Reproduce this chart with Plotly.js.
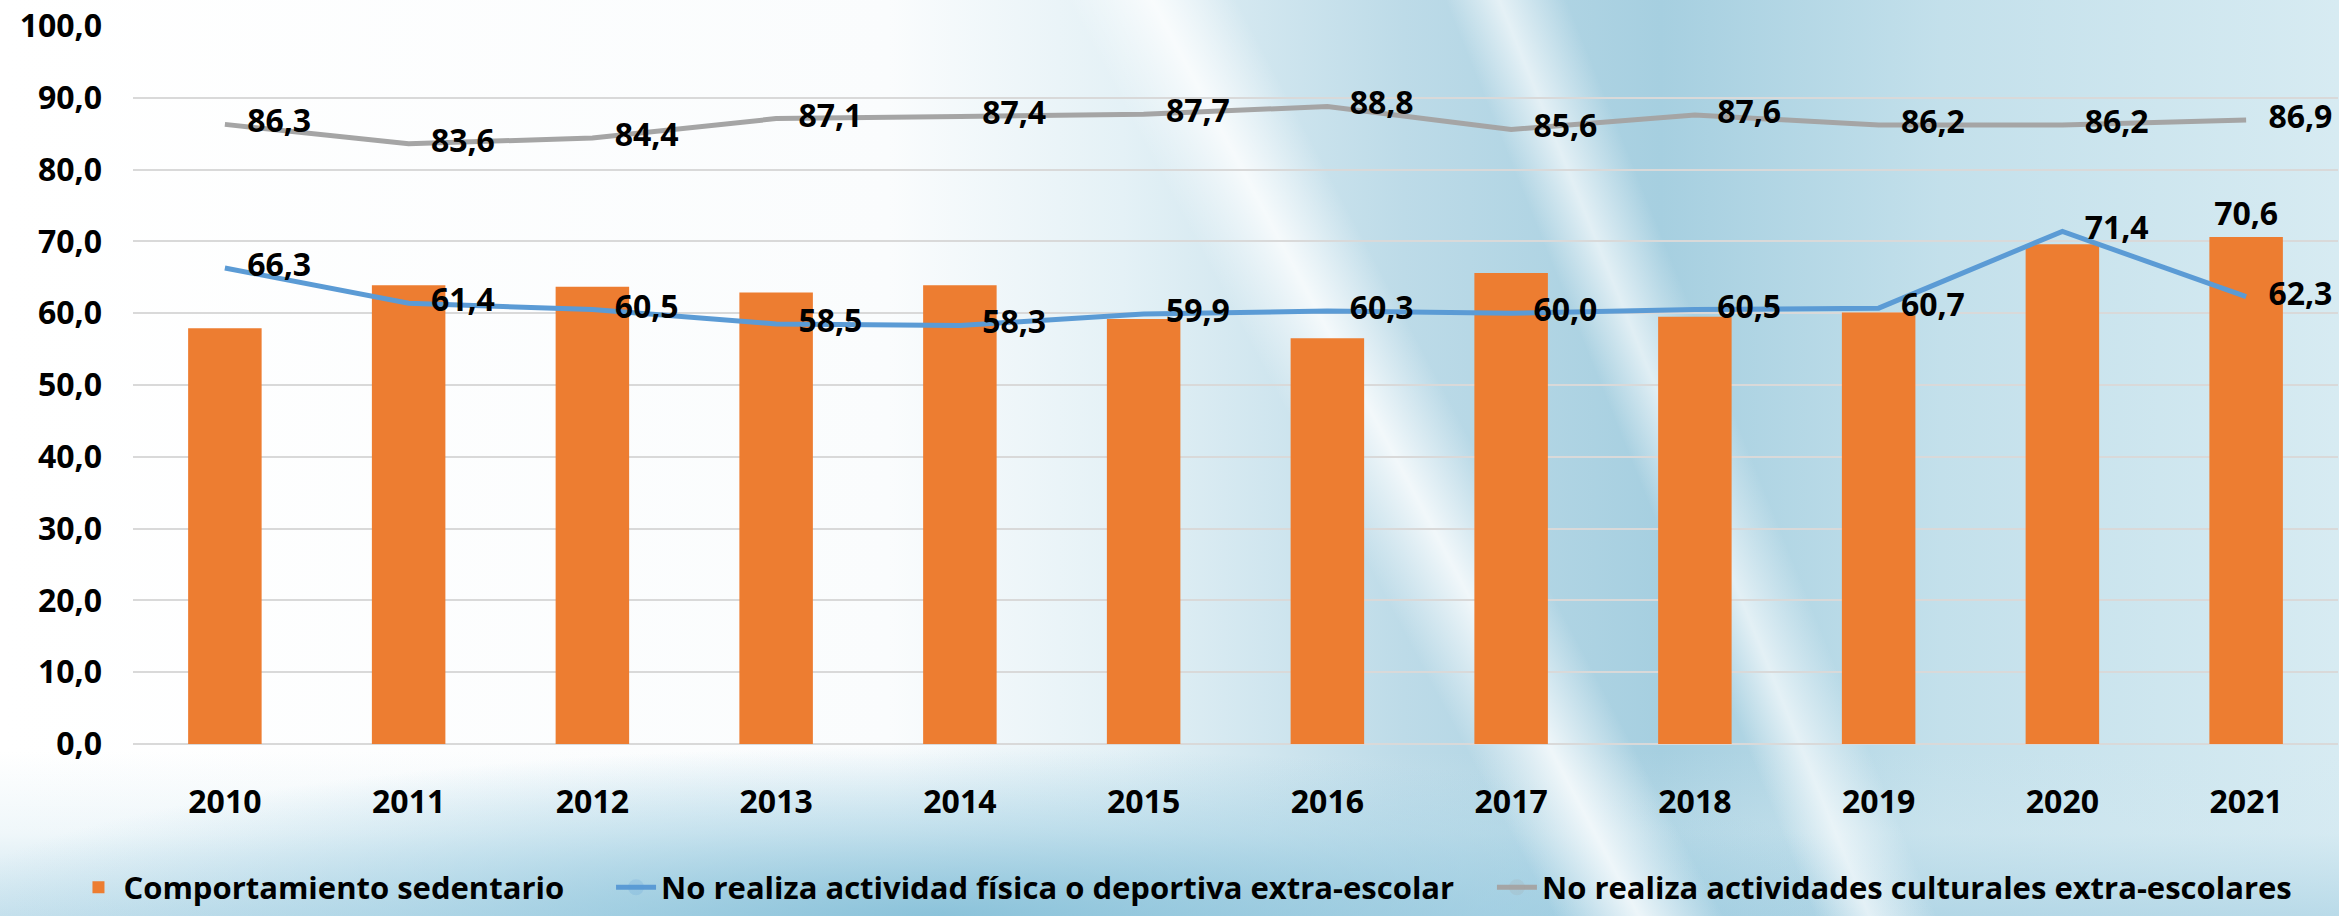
<!DOCTYPE html>
<html>
<head>
<meta charset="utf-8">
<script src="https://cdn.plot.ly/plotly-3.0.1.min.js"></script>
<style>
  html, body { margin: 0; padding: 0; }
  #chart {
    width: 2339px; height: 916px;
    background:
      linear-gradient(62deg, rgba(255,255,255,0) 55%, rgba(255,255,255,0.8) 58%, rgba(255,255,255,0) 61%),
      linear-gradient(68deg, rgba(255,255,255,0) 67%, rgba(255,255,255,0.65) 69%, rgba(255,255,255,0) 71.5%),
      radial-gradient(ellipse 1000px 170px at 40% 100%, rgba(120,185,212,0.75) 0%, rgba(150,202,224,0.45) 55%, rgba(255,255,255,0) 100%),
      linear-gradient(to top, rgba(170,210,228,0.65) 0%, rgba(210,232,241,0.35) 9%, rgba(255,255,255,0) 18%),
      linear-gradient(to right, #ffffff 0%, #fafcfd 38%, #e4f1f6 48%, #bddbe8 60%, #a6cfe0 71%, #c3e0eb 83%, #d7ebf2 100%);
  }
</style>
</head>
<body>
<div id="chart"></div>
<script>
const years = ['2010','2011','2012','2013','2014','2015','2016','2017','2018','2019','2020','2021'];
const sedentario = [57.9, 63.9, 63.7, 62.9, 63.9, 59.2, 56.5, 65.6, 59.5, 60.1, 69.6, 70.6];
const noActividadFisica = [66.3, 61.4, 60.5, 58.5, 58.3, 59.9, 60.3, 60.0, 60.5, 60.7, 71.4, 62.3];
const noActividadCultural = [86.3, 83.6, 84.4, 87.1, 87.4, 87.7, 88.8, 85.6, 87.6, 86.2, 86.2, 86.9];
const seriesNames = ['Comportamiento sedentario', 'No realiza actividad física o deportiva extra-escolar', 'No realiza actividades culturales extra-escolares'];
const yTicks = [0, 10, 20, 30, 40, 50, 60, 70, 80, 90, 100];

const FONT = 'Open Sans, Lato, sans-serif';
const labelFont = {family: FONT, size: 32, color: '#000000', weight: 'bold'};

const barText = sedentario.map((v, i) => i === sedentario.length - 1 ? v.toFixed(1).replace('.', ',') : '');

const traces = [
  {
    type: 'bar', name: seriesNames[0], x: years, y: sedentario,
    marker: {color: '#ed7d31'},
    text: barText, textposition: 'outside', textfont: labelFont, cliponaxis: false,
    legend: 'legend'
  },
  {
    type: 'scatter', mode: 'lines+markers+text', name: seriesNames[1], x: years, y: noActividadFisica,
    line: {color: '#5b9bd5', width: 5},
    marker: {size: 34, opacity: 0, color: '#5b9bd5'},
    texttemplate: '%{y:.1f}', textposition: 'middle right', textfont: labelFont, cliponaxis: false,
    legend: 'legend2'
  },
  {
    type: 'scatter', mode: 'lines+markers+text', name: seriesNames[2], x: years, y: noActividadCultural,
    line: {color: '#a5a5a5', width: 5},
    marker: {size: 34, opacity: 0, color: '#a5a5a5'},
    texttemplate: '%{y:.1f}', textposition: 'middle right', textfont: labelFont, cliponaxis: false,
    legend: 'legend3'
  }
];

const legendBase = {
  orientation: 'h', xanchor: 'left', y: -0.2, yanchor: 'middle',
  font: {family: FONT, size: 31, color: '#000000', weight: 'bold'},
  bgcolor: 'rgba(0,0,0,0)', itemwidth: 40
};

const layout = {
  width: 2339, height: 916,
  margin: {l: 133, r: 1, t: 26, b: 162},
  paper_bgcolor: 'rgba(0,0,0,0)',
  plot_bgcolor: 'rgba(0,0,0,0)',
  separators: ',.',
  bargap: 0.6,
  font: {family: FONT, color: '#000000'},
  xaxis: {
    type: 'category', range: [-0.5, years.length - 0.5],
    tickfont: {family: FONT, size: 32, color: '#000000', weight: 'bold'},
    ticks: '', ticklabelstandoff: 36,
    showgrid: false, showline: false, zeroline: false
  },
  yaxis: {
    range: [0, 100], tickvals: yTicks, tickformat: '.1f',
    tickfont: {family: FONT, size: 32, color: '#000000', weight: 'bold'},
    ticklabelstandoff: 30,
    showgrid: true, gridcolor: '#d9d9d9', gridwidth: 2,
    zeroline: true, zerolinecolor: '#d9d9d9', zerolinewidth: 2,
    showline: false
  },
  showlegend: true,
  legend: Object.assign({}, legendBase, {x: -0.027}),
  legend2: Object.assign({}, legendBase, {x: 0.2168}),
  legend3: Object.assign({}, legendBase, {x: 0.6163})
};

Plotly.newPlot('chart', traces, layout, {displayModeBar: false, responsive: false});
</script>
</body>
</html>
